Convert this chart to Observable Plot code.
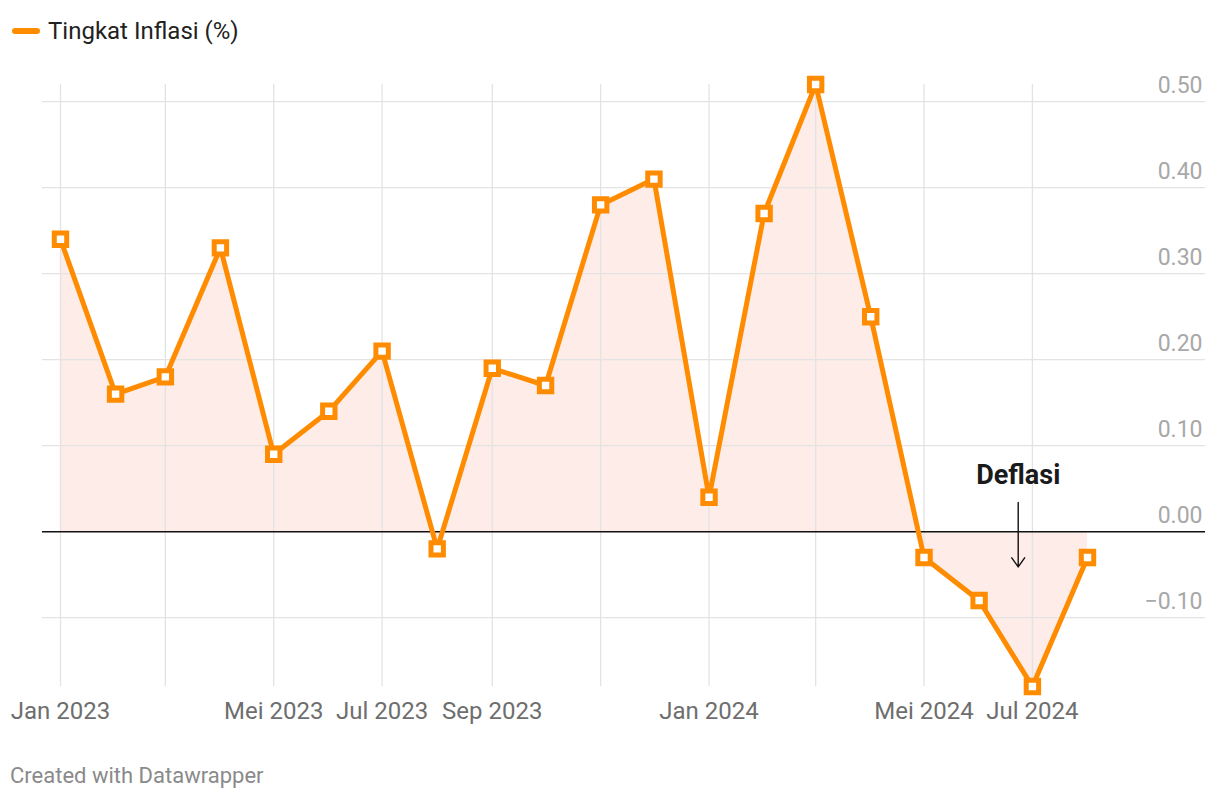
<!DOCTYPE html>
<html>
<head>
<meta charset="utf-8">
<script src="https://cdn.jsdelivr.net/npm/d3@7"></script>
<script src="https://cdn.jsdelivr.net/npm/@observablehq/plot@0.6"></script>
<style>
  html, body { margin: 0; padding: 0; background: #fff; font-family: Roboto, "Noto Sans", sans-serif; }
  #wrap { width: 1220px; height: 802px; position: relative; }
  #legend { height: 60px; position: relative; }
  #legend .sw { position: absolute; left: 12px; top: 28px; width: 28px; height: 6px; border-radius: 3px; background: #ff8c00; }
  #legend .lab { position: absolute; left: 48px; top: 16px; font-size: 24px; line-height: 30px; color: #222; }
  #chart { height: 680px; }
  #footer { position: absolute; left: 10px; top: 762px; font-size: 22px; line-height: 28px; color: #8a8a8a; }
  svg { display: block; }
</style>
</head>
<body>
<div id="wrap">
  <div id="legend"><div class="sw"></div><div class="lab">Tingkat Inflasi (%)</div></div>
  <div id="chart"></div>
  <div id="footer">Created with Datawrapper</div>
</div>
<script>
const months = ["2023-01","2023-02","2023-03","2023-04","2023-05","2023-06","2023-07","2023-08","2023-09","2023-10","2023-11","2023-12","2024-01","2024-02","2024-03","2024-04","2024-05","2024-06","2024-07","2024-08"];
const inflation = [0.34,0.16,0.18,0.33,0.09,0.14,0.21,-0.02,0.19,0.17,0.38,0.41,0.04,0.37,0.52,0.25,-0.03,-0.08,-0.18,-0.03];

const gridMonths = ["2023-01","2023-03","2023-05","2023-07","2023-09","2023-11","2024-01","2024-03","2024-05","2024-07"];
const xTickMonths = ["2023-01","2023-05","2023-07","2023-09","2024-01","2024-05","2024-07"];
const xTickLabels = ["Jan 2023","Mei 2023","Jul 2023","Sep 2023","Jan 2024","Mei 2024","Jul 2024"];
const yTicks = [-0.1, 0, 0.1, 0.2, 0.3, 0.4, 0.5];
const yTickLabels = ["−0.10","0.00","0.10","0.20","0.30","0.40","0.50"];

const annotationText = ["Deflasi"];
const annotationDate = "2024-06-23";
const annotationTextY = 0.066;
const annotationArrowFrom = 0.034;
const annotationArrowTo = -0.041;

const parse = d3.utcParse("%Y-%m-%d");
const toDate = m => m.length === 7 ? parse(m + "-01") : parse(m);

const data = months.map((m, i) => ({date: toDate(m), value: inflation[i]}));
const grid = gridMonths.map(toDate);
const xTicks = xTickMonths.map((m, i) => ({date: toDate(m), label: xTickLabels[i]}));
const yLab = yTicks.map((v, i) => ({v, label: yTickLabels[i]}));
const ann = [{date: toDate(annotationDate), ty: annotationTextY, y1: annotationArrowFrom, y2: annotationArrowTo, text: annotationText[0]}];

const orange = "#ff8c00";

const chart = Plot.plot({
  width: 1220,
  height: 680,
  marginLeft: 42,
  marginRight: 15,
  marginTop: 24,
  marginBottom: 54,
  style: {fontFamily: "Roboto, 'Noto Sans', sans-serif", background: "transparent"},
  x: {type: "utc", domain: [data[0].date, data[data.length - 1].date], range: [60, 1087], axis: null},
  y: {domain: [-0.18, 0.52], axis: null},
  marks: [
    Plot.areaY(data, {x: "date", y: "value", fill: "#fdece7", curve: "linear"}),
    Plot.ruleY(yTicks.filter(v => v !== 0), {stroke: "#e3e3e3", strokeWidth: 1.3}),
    Plot.ruleX(grid, {stroke: "#e3e3e3", strokeWidth: 1.3}),
    Plot.ruleY([0], {stroke: "#111", strokeWidth: 1.4}),
    Plot.text(yLab, {y: "v", text: "label", frameAnchor: "right", textAnchor: "end", dx: -3, dy: -16, fontSize: 23, fill: "#a8a8a8"}),
    Plot.text(xTicks, {x: "date", text: "label", frameAnchor: "bottom", dy: 32, fontSize: 24, fill: "#6e6e6e"}),
    Plot.line(data, {x: "date", y: "value", stroke: orange, strokeWidth: 5, strokeLinejoin: "miter"}),
    Plot.dot(data, {x: "date", y: "value", symbol: "square", r: 7, fill: "#fff", stroke: orange, strokeWidth: 5}),
    Plot.text(ann, {x: "date", y: "ty", text: "text", fontWeight: "bold", fontSize: 27, fill: "#1a1a1a"}),
    Plot.arrow(ann, {x1: "date", x2: "date", y1: "y1", y2: "y2", stroke: "#111", strokeWidth: 1.4, headLength: 12, headAngle: 70})
  ]
});
document.getElementById("chart").appendChild(chart);
</script>
</body>
</html>
